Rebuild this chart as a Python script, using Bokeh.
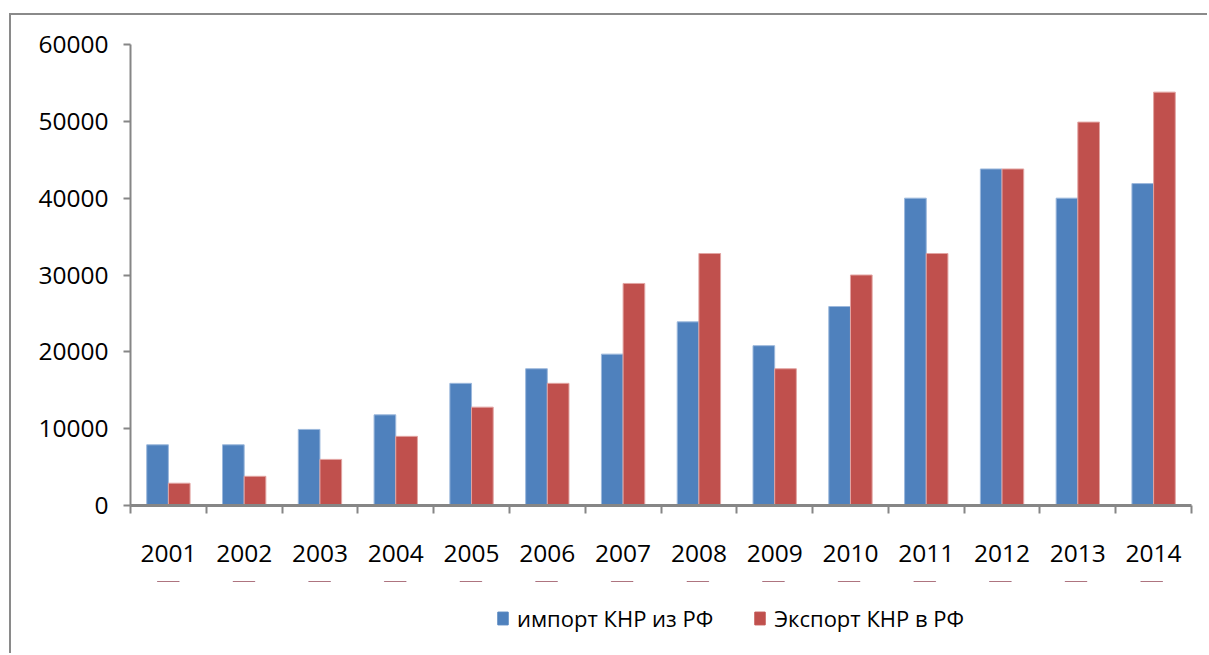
from bokeh.plotting import figure
from bokeh.layouts import column
from bokeh.models import (FactorRange, Range1d, LinearAxis, CategoricalAxis, FixedTicker,
                          NumeralTickFormatter, Legend, LegendItem, ColumnDataSource)
from bokeh.transform import dodge
from bokeh.embed import file_html
from bokeh.resources import INLINE

years = ["2001", "2002", "2003", "2004", "2005", "2006", "2007",
         "2008", "2009", "2010", "2011", "2012", "2013", "2014"]
imports = [7900, 7900, 9900, 11800, 15900, 17800, 19700,
           23900, 20800, 25900, 40000, 43800, 40000, 41900]
exports = [2900, 3800, 6000, 9000, 12800, 15900, 28900,
           32800, 17800, 30000, 32800, 43800, 49900, 53800]
series_names = ["импорт КНР из РФ", "Экспорт КНР в РФ"]
y_ticks = [0, 10000, 20000, 30000, 40000, 50000, 60000]

FONT = "Open Sans"
FS = "24.5px"
AX = "#868686"
BLUE = "#4F81BD"
RED = "#C0504D"
BORDER = "2px solid #8a8a8a"

src = ColumnDataSource(dict(years=years, imp=imports, exp=exports))

p = figure(x_range=FactorRange(*years, range_padding=0), y_range=Range1d(0, 60000),
           frame_width=1059, frame_height=459, output_backend="svg", toolbar_location=None,
           x_axis_location=None, y_axis_location=None,
           min_border_left=119, min_border_right=18, min_border_top=29, min_border_bottom=78)
p.margin = (13, 0, 0, 9)
p.styles = {"border-left": BORDER, "border-top": BORDER}
p.outline_line_color = None
p.xgrid.visible = False
p.ygrid.visible = False

p.vbar(x=dodge("years", -0.143, range=p.x_range), top="imp", width=0.286, source=src,
       fill_color=BLUE, line_color="#9cb8dc", line_width=1)
p.vbar(x=dodge("years", 0.143, range=p.x_range), top="exp", width=0.286, source=src,
       fill_color=RED, line_color="#e2a4a2", line_width=1)

yax = LinearAxis(ticker=FixedTicker(ticks=y_ticks), formatter=NumeralTickFormatter(format="0"))
yax.axis_line_color = AX
yax.axis_line_width = 2
yax.major_tick_line_color = AX
yax.major_tick_line_width = 2
yax.major_tick_in = 0
yax.major_tick_out = 7
yax.minor_tick_line_color = None
yax.major_label_standoff = 15
yax.major_label_text_font = FONT
yax.major_label_text_font_size = FS
yax.major_label_text_color = "black"
p.add_layout(yax, "left")

# boundary ticks between categories (synthetic coordinates of the factor range)
tax = LinearAxis(ticker=FixedTicker(ticks=list(range(len(years) + 1))),
                 major_label_overrides={i: "" for i in range(len(years) + 1)})
tax.axis_line_color = AX
tax.axis_line_width = 3
tax.major_tick_line_color = AX
tax.major_tick_line_width = 2
tax.major_tick_in = 0
tax.major_tick_out = 8
tax.minor_tick_line_color = None
tax.major_label_text_font_size = "1px"
tax.major_label_standoff = 0
p.add_layout(tax, "below")

cax = CategoricalAxis()
cax.axis_line_color = None
cax.major_tick_line_color = None
cax.major_tick_out = 0
cax.major_tick_in = 0
cax.major_label_standoff = 31
cax.major_label_text_font = FONT
cax.major_label_text_font_size = FS
cax.major_label_text_color = "black"
p.add_layout(cax, "below")

# legend strip below the chart (same series, drawn out of view so only the legend shows)
lf = figure(x_range=FactorRange(*years, range_padding=0), y_range=Range1d(-2, -1),
            width=1196, height=72, output_backend="svg", toolbar_location=None,
            x_axis_location=None, y_axis_location=None,
            min_border_left=0, min_border_right=0, min_border_top=0, min_border_bottom=0)
lf.margin = (0, 0, 0, 9)
lf.styles = {"border-left": BORDER}
lf.outline_line_color = None
lf.xgrid.visible = False
lf.ygrid.visible = False
l1 = lf.vbar(x="years", top="imp", width=0.286, source=src, fill_color=BLUE, line_color=BLUE)
l2 = lf.vbar(x="years", top="exp", width=0.286, source=src, fill_color=RED, line_color=RED)

legend = Legend(items=[LegendItem(label=series_names[0], renderers=[l1]),
                       LegendItem(label=series_names[1], renderers=[l2])],
                orientation="horizontal", location=(366, 20))
legend.border_line_color = None
legend.background_fill_alpha = 0
legend.label_text_font = FONT
legend.label_text_font_size = "22px"
legend.label_text_color = "black"
legend.glyph_width = 13
legend.glyph_height = 16
legend.label_standoff = 8
legend.spacing = 40
legend.padding = 0
legend.margin = 0
lf.add_layout(legend, "center")

layout = column(p, lf, spacing=0)
open("out.html", "w").write(file_html(layout, INLINE))
